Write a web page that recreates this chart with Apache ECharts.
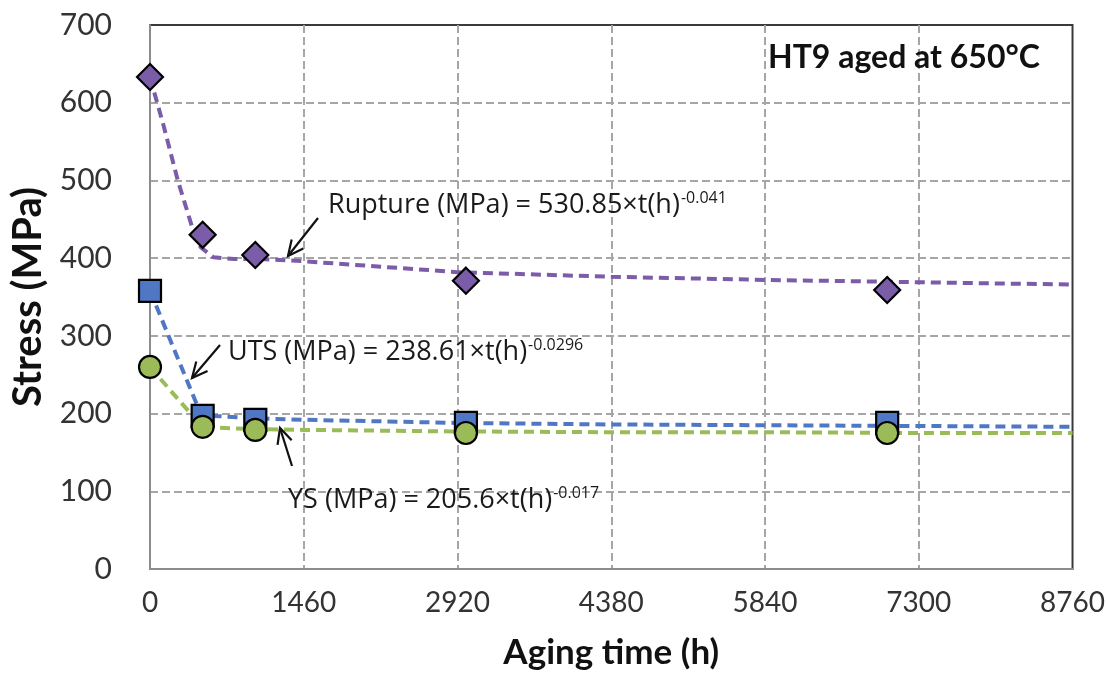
<!DOCTYPE html>
<html>
<head>
<meta charset="utf-8">
<script src="https://cdn.jsdelivr.net/npm/echarts@6/dist/echarts.min.js"></script>
<style>
  html, body { margin: 0; padding: 0; background: #fff; }
  #chart { width: 1108px; height: 688px; }
</style>
</head>
<body>
<div id="chart"></div>
<script>
// measured points (aging time h, stress MPa)
const agingTime = [0, 500, 1000, 3000, 7000]
const rupture = [633, 430, 404, 371, 359]
const uts = [358, 197, 192, 188, 188]
const ys = [260, 183, 179, 175, 175]

// dashed trend curves
const ruptureTrendT = [0, 130, 264, 400, 481, 604, 800, 1048, 1460, 2920, 4380, 5840, 7300, 8760]
const ruptureTrendV = [633, 570, 500, 440, 414, 401, 399, 399, 396, 382, 376, 372, 369, 366]
const utsTrendT = [0, 480, 600, 1000, 1460, 2920, 4380, 5840, 7300, 8760]
const utsTrendV = [358, 200, 197, 194, 192, 188, 186, 185, 184, 183]
const ysTrendT = [0, 450, 600, 1000, 1460, 2920, 4380, 5840, 7300, 8760]
const ysTrendV = [260, 190, 182, 180, 179, 177, 176, 176, 175, 175]

const pair = (xs, ys) => xs.map((x, i) => [x, ys[i]])

const FONT = '"Open Sans", Lato, sans-serif'
const LATO = 'Lato, "Open Sans", sans-serif'
const PURPLE = '#7a5ca8'
const BLUE = '#4f77c4'
const GREEN = '#9bbb59'

const chart = echarts.init(document.getElementById('chart'))

const arrow = (x1, y1, x2, y2) => {
  const a = Math.atan2(y2 - y1, x2 - x1)
  const L = 17
  const s = 0.45
  const h1 = [x2 - L * Math.cos(a - s), y2 - L * Math.sin(a - s)]
  const h2 = [x2 - L * Math.cos(a + s), y2 - L * Math.sin(a + s)]
  return [
    { type: 'line', shape: { x1, y1, x2, y2 }, style: { stroke: '#111', lineWidth: 2.2 }, z: 100 },
    { type: 'polyline', shape: { points: [h1, [x2, y2], h2] }, style: { stroke: '#111', lineWidth: 2.2, fill: null }, z: 100 }
  ]
}

const eq = (left, top, main, sup) => ({
  type: 'text',
  left, top,
  z: 100,
  style: {
    text: '{m|' + main + '}{s|' + sup + '}',
    rich: {
      m: { fontFamily: FONT, fontSize: 27, fill: '#1a1a1a', lineHeight: 34, verticalAlign: 'bottom' },
      s: { fontFamily: FONT, fontSize: 16, fill: '#1a1a1a', lineHeight: 16, verticalAlign: 'bottom', padding: [0, 0, 13, 1] }
    }
  }
})

const lineSeries = (name, data, color) => ({
  name, type: 'line', data, showSymbol: false, symbol: 'none',
  lineStyle: { color, width: 4, type: [10, 6] }, z: 2, silent: true
})
const pointSeries = (name, data, symbol, size, color, z) => ({
  name, type: 'scatter', data, symbol, symbolSize: size,
  itemStyle: { color, borderColor: '#000', borderWidth: 2.2, opacity: 1 }, z
})

const gridLine = { show: true, showMinLine: false, showMaxLine: false, lineStyle: { color: '#a6a6a6', width: 2, type: [8, 4] } }

chart.setOption({
  animation: false,
  backgroundColor: '#fff',
  grid: {
    left: 149, right: 31, top: 25, bottom: 119,
    show: true, borderColor: '#3a3a3a', borderWidth: 2
  },
  xAxis: {
    type: 'value', min: 0, max: 8760, interval: 1460,
    name: 'Aging time (h)', nameLocation: 'middle', nameGap: 66,
    nameTextStyle: { fontFamily: LATO, fontSize: 35, fontWeight: 'bold', color: '#111' },
    axisLine: { show: true, lineStyle: { color: '#8c8c8c', width: 2 } },
    axisTick: { show: false },
    axisLabel: { fontFamily: LATO, fontSize: 28, color: '#333', margin: 20, formatter: v => String(v) },
    splitLine: gridLine
  },
  yAxis: {
    type: 'value', min: 0, max: 700, interval: 100,
    name: 'Stress (MPa)', nameLocation: 'middle', nameGap: 102,
    nameTextStyle: { fontFamily: LATO, fontSize: 40, fontWeight: 'bold', color: '#111' },
    axisLine: { show: true, lineStyle: { color: '#8c8c8c', width: 2 } },
    axisTick: { show: false },
    axisLabel: { fontFamily: LATO, fontSize: 30, color: '#333', margin: 38, formatter: v => String(v) },
    splitLine: gridLine
  },
  series: [
    lineSeries('Rupture trend', pair(ruptureTrendT, ruptureTrendV), PURPLE),
    lineSeries('UTS trend', pair(utsTrendT, utsTrendV), BLUE),
    lineSeries('YS trend', pair(ysTrendT, ysTrendV), GREEN),
    pointSeries('Rupture', pair(agingTime, rupture), 'diamond', [26, 26], PURPLE, 5),
    pointSeries('UTS', pair(agingTime, uts), 'rect', [22, 22], BLUE, 6),
    pointSeries('YS', pair(agingTime, ys), 'circle', [22, 22], GREEN, 7)
  ],
  graphic: [
    {
      type: 'text', left: 768, top: 42, z: 100,
      style: { text: 'HT9 aged at 650°C', fontFamily: LATO, fontSize: 32, fontWeight: 'bold', fill: '#111' }
    },
    eq(328, 190, 'Rupture (MPa) = 530.85×t(h)', '-0.041'),
    eq(228, 337, 'UTS (MPa) = 238.61×t(h)', '-0.0296'),
    eq(288, 485, 'YS (MPa) = 205.6×t(h)', '-0.017'),
    ...arrow(318, 218, 288, 256),
    ...arrow(220, 345, 192, 378),
    ...arrow(292, 466, 280, 428)
  ]
})
</script>
</body>
</html>
